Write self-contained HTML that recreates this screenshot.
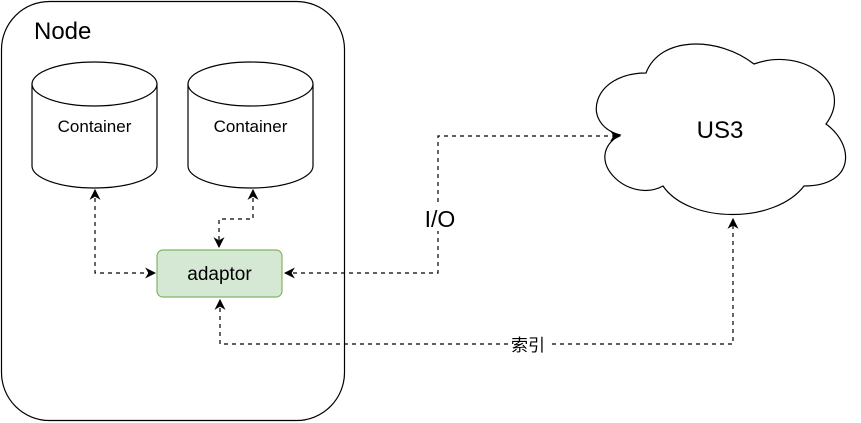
<!DOCTYPE html>
<html><head><meta charset="utf-8"><style>
html,body{margin:0;padding:0;background:#fff;}
svg{display:block;}
text{font-family:"Liberation Sans","Noto Sans CJK SC",sans-serif;fill:#000;}
</style></head><body>
<svg width="861" height="423" viewBox="0 0 861 423" xmlns="http://www.w3.org/2000/svg">
<defs>
<marker id="a" viewBox="0 0 10 10" refX="9" refY="5" markerWidth="11" markerHeight="11" orient="auto-start-reverse" markerUnits="userSpaceOnUse">
<path d="M0,0 L10,5 L0,10 L3,5 Z" fill="#000"/>
</marker>
</defs>
<rect x="1.5" y="1.5" width="343" height="419" rx="48" ry="48" fill="#fff" stroke="#000" stroke-width="1.2"/>
<text x="34" y="39" font-size="24">Node</text>
<g fill="#fff" stroke="#000" stroke-width="1.2">
<path d="M32,84 A62.5,22 0 0 1 157,84 L157,166 A62.5,22 0 0 1 32,166 Z"/>
<path d="M32,84 A62.5,22 0 0 0 157,84"/>
<path d="M188,84 A62.5,22 0 0 1 313,84 L313,166 A62.5,22 0 0 1 188,166 Z"/>
<path d="M188,84 A62.5,22 0 0 0 313,84"/>
</g>
<text x="94.5" y="132" font-size="17" text-anchor="middle">Container</text>
<text x="250.5" y="132" font-size="17" text-anchor="middle">Container</text>
<rect x="157" y="250" width="125" height="47" rx="6" fill="#d5e8d4" stroke="#82b366" stroke-width="1.2"/>
<text x="219.5" y="280" font-size="19" text-anchor="middle">adaptor</text>
<path d="M646,73 C592,73 580,124 620,135 C580,158 628,205 663,186 C689,224 775,224 804,186 C855,186 855,145 826,124 C855,85 804,46 754,64 C718,36 660,36 646,73 Z" fill="#fff" stroke="#000" stroke-width="1.2"/>
<text x="720" y="138" font-size="24" text-anchor="middle">US3</text>
<g fill="none" stroke="#000" stroke-width="1.2" stroke-dasharray="4,4">
<path d="M95,190 L95,273 L155,273" marker-start="url(#a)" marker-end="url(#a)"/>
<path d="M253,190 L253,219 L219,219 L219,247" marker-start="url(#a)" marker-end="url(#a)"/>
<path d="M285,273 L438,273 L438,136 L620,136" marker-start="url(#a)" marker-end="url(#a)"/>
<path d="M220,300 L220,344 L733,344 L733,219" marker-start="url(#a)" marker-end="url(#a)"/>
</g>
<rect x="422" y="203" width="36" height="28" fill="#fff"/>
<text x="440" y="227" font-size="23" text-anchor="middle">I/O</text>
<rect x="508" y="334" width="40" height="20" fill="#fff"/>
<text x="528" y="351" font-size="17" text-anchor="middle">索引</text>
</svg>
</body></html>
